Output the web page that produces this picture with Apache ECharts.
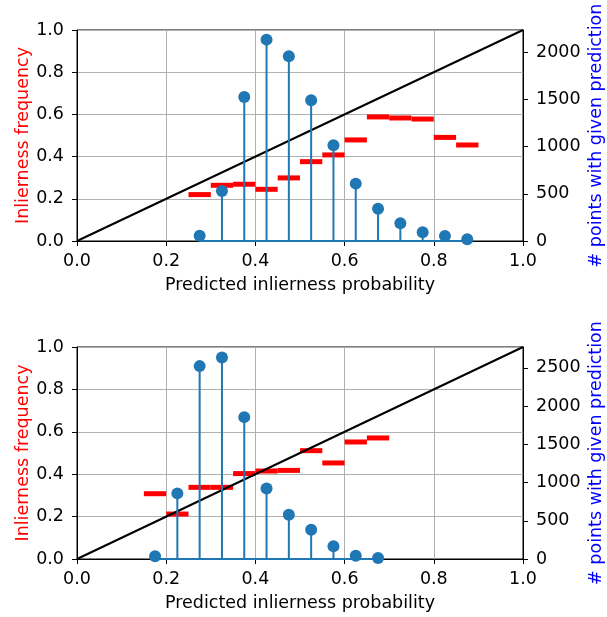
<!DOCTYPE html>
<html>
<head>
<meta charset="utf-8">
<script src="https://cdn.jsdelivr.net/npm/echarts@6/dist/echarts.min.js"></script>
<style>html,body{margin:0;padding:0;background:#fff;}#c{width:607px;height:617px;}</style>
</head>
<body>
<div id="c"></div>
<script>
// ---- data ----
const binWidth = 0.05;
const topCenters = [0.275,0.325,0.375,0.425,0.475,0.525,0.575,0.625,0.675,0.725,0.775,0.825,0.875];
const topFreq    = [0.22,0.264,0.269,0.245,0.299,0.376,0.408,0.479,0.588,0.583,0.578,0.491,0.455];
const topCounts  = [56,530,1527,2134,1958,1491,1014,608,343,187,92,53,18];
const topRightMax = 2236;
const topRightTicks = [0,500,1000,1500,2000];

const botCenters = [0.175,0.225,0.275,0.325,0.375,0.425,0.475,0.525,0.575,0.625,0.675];
const botFreq    = [0.308,0.212,0.338,0.338,0.403,0.415,0.418,0.511,0.453,0.552,0.571];
const botCounts  = [35,858,2522,2635,1855,923,579,383,166,44,13];
const botRightMax = 2772;
const botRightTicks = [0,500,1000,1500,2000,2500];

const xTicks = [0,0.2,0.4,0.6,0.8,1.0];
const diag = [[0,0],[1,1]];

const xName = 'Predicted inlierness probability';
const leftName = 'Inlierness frequency';
const rightName = '# points with given prediction';

// ---- chart ----
const FONT = 'DejaVu Sans';
const FS = 17.5;
const chart = echarts.init(document.getElementById('c'), null, {renderer:'canvas'});

const grids = [
  {left:77, width:446, top:30, height:211},
  {left:77, width:446, top:347, height:212}
];

function xAxis(gi){
  return {
    type:'value', gridIndex:gi, min:0, max:1, interval:0.2,
    name:xName, nameLocation:'middle', nameGap:35, nameMoveOverlap:false,
    nameTextStyle:{fontFamily:FONT, fontSize:FS, color:'#000'},
    axisLine:{show:true, lineStyle:{color:'#000', width:1}},
    axisTick:{show:true, length:5, lineStyle:{color:'#000'}},
    axisLabel:{fontFamily:FONT, fontSize:FS, color:'#000', margin:11, formatter:v=>v.toFixed(1)},
    splitLine:{show:true, lineStyle:{color:'#b0b0b0', width:1}}
  };
}
function leftAxis(gi){
  return {
    type:'value', gridIndex:gi, min:0, max:1, interval:0.2, position:'left',
    name:leftName, nameLocation:'middle', nameGap:45, nameRotate:90, nameMoveOverlap:false,
    nameTextStyle:{fontFamily:FONT, fontSize:FS, color:'#ff0000'},
    axisLine:{show:true, onZero:false, lineStyle:{color:'#000', width:1}},
    axisTick:{show:true, length:5, lineStyle:{color:'#000'}},
    axisLabel:{fontFamily:FONT, fontSize:FS, color:'#000', margin:13, formatter:v=>v.toFixed(1)},
    splitLine:{show:true, lineStyle:{color:'#b0b0b0', width:1}}
  };
}
function rightAxis(gi, max, ticks){
  return {
    type:'value', gridIndex:gi, min:0, max:max, position:'right',
    name:rightName, nameLocation:'middle', nameGap:64, nameRotate:90, nameMoveOverlap:false,
    nameTextStyle:{fontFamily:FONT, fontSize:FS, color:'#0000ff'},
    axisLine:{show:true, onZero:false, lineStyle:{color:'#000', width:1}},
    axisTick:{show:true, length:5, customValues:ticks, lineStyle:{color:'#000', width:1}},
    axisLabel:{fontFamily:FONT, fontSize:FS, color:'#000', margin:13, customValues:ticks, formatter:v=>String(Math.round(v))},
    splitLine:{show:false}
  };
}

function segSeries(xi, yi, centers, freq){
  const data = centers.map((c,i)=>[c-binWidth/2, c+binWidth/2, freq[i]]);
  return {
    type:'custom', xAxisIndex:xi, yAxisIndex:yi, z:3,
    encode:{x:[0,1], y:2},
    data:data,
    renderItem:function(params, api){
      const p0 = api.coord([api.value(0), api.value(2)]);
      const p1 = api.coord([api.value(1), api.value(2)]);
      return {type:'line', shape:{x1:p0[0], y1:p0[1], x2:p1[0], y2:p1[1]},
              style:{stroke:'#ff0000', lineWidth:5, lineCap:'butt'}};
    }
  };
}
function diagSeries(xi, yi){
  return {type:'line', xAxisIndex:xi, yAxisIndex:yi, data:diag, symbol:'none', z:4,
          lineStyle:{color:'#000', width:2}, silent:true};
}
function stemSeries(xi, yi, centers, counts){
  return {
    type:'custom', xAxisIndex:xi, yAxisIndex:yi, z:5,
    encode:{x:0, y:1},
    data:centers.map((c,i)=>[c, counts[i]]),
    renderItem:function(params, api){
      const p0 = api.coord([api.value(0), 0]);
      const p1 = api.coord([api.value(0), api.value(1)]);
      return {type:'line', shape:{x1:p0[0], y1:p0[1], x2:p1[0], y2:p1[1]},
              style:{stroke:'#1f77b4', lineWidth:2}};
    }
  };
}
function baseSeries(xi, yi, centers){
  return {type:'line', xAxisIndex:xi, yAxisIndex:yi, symbol:'none', z:5,
          data:[[centers[0],0],[centers[centers.length-1],0]],
          lineStyle:{color:'#1f77b4', width:2}};
}
function markerSeries(xi, yi, centers, counts){
  return {type:'scatter', xAxisIndex:xi, yAxisIndex:yi, z:6, symbolSize:12,
          data:centers.map((c,i)=>[c, counts[i]]),
          itemStyle:{color:'#1f77b4', opacity:1}};
}

const option = {
  animation:false,
  backgroundColor:'#fff',
  textStyle:{fontFamily:FONT},
  grid:grids.map(g=>Object.assign({show:true, borderColor:'#000', borderWidth:1, backgroundColor:'transparent', containLabel:false, outerBoundsMode:'none'}, g)),
  xAxis:[xAxis(0), xAxis(1)],
  yAxis:[leftAxis(0), rightAxis(0, topRightMax, topRightTicks), leftAxis(1), rightAxis(1, botRightMax, botRightTicks)],
  series:[
    segSeries(0,0,topCenters,topFreq),
    diagSeries(0,0),
    baseSeries(0,1,topCenters),
    stemSeries(0,1,topCenters,topCounts),
    markerSeries(0,1,topCenters,topCounts),
    segSeries(1,2,botCenters,botFreq),
    diagSeries(1,2),
    baseSeries(1,3,botCenters),
    stemSeries(1,3,botCenters,botCounts),
    markerSeries(1,3,botCenters,botCounts)
  ]
};
chart.setOption(option);
</script>
</body>
</html>
